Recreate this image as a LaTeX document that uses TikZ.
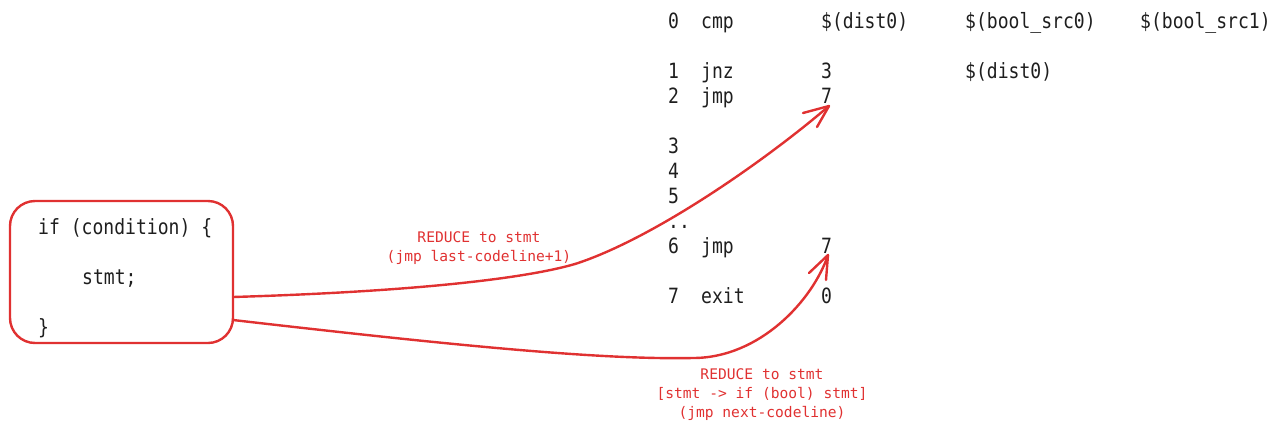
\documentclass[tikz,border=0pt]{standalone}
\usepackage{fontspec}
\newfontfamily\codefont[FakeStretch=0.86]{DejaVu Sans Mono}
\newfontfamily\labelfont{DejaVu Sans Mono}
\definecolor{exred}{HTML}{E03131}
\definecolor{exink}{HTML}{1E1E1E}
\begin{document}
\begin{tikzpicture}[x=1pt,y=-1pt,
  codebig/.style={anchor=base west,inner sep=0pt,text=exink,font=\codefont\fontsize{21}{24}\selectfont},
  codeline/.style={anchor=base west,inner sep=0pt,text=exink,font=\codefont\fontsize{21}{24}\selectfont},
  redlabel/.style={anchor=base,inner sep=0pt,text=exred,font=\labelfont\fontsize{14.6}{18}\selectfont},
  redline/.style={draw=exred,line width=2.4pt,line cap=round,line join=round},
  codebox/.style={draw=exred,line width=2.4pt,rounded corners=25pt,minimum width=223pt,minimum height=142pt,inner sep=0pt}]
\useasboundingbox (0,0) rectangle (1284,434);
% box
\node[codebox] (box) at (121.5,272) {};
\node[codebig] (l1) at (38,234) {if (condition) \{};
\node[codebig] (l2) at (82,284) {stmt;};
\node[codebig] (l3) at (38,334) {\}};
% code listing
\node[codeline] (r0a) at (668,28) {0};
\node[codeline] (r0b) at (701,28) {cmp};
\node[codeline] (r0c) at (821,28) {\$(dist0)};
\node[codeline] (r0d) at (965,28) {\$(bool\_src0)};
\node[codeline] (r0e) at (1140,28) {\$(bool\_src1)};
\node[codeline] (r1a) at (668,78) {1};
\node[codeline] (r1b) at (701,78) {jnz};
\node[codeline] (r1c) at (821,78) {3};
\node[codeline] (r1d) at (965,78) {\$(dist0)};
\node[codeline] (r2a) at (668,103) {2};
\node[codeline] (r2b) at (701,103) {jmp};
\node[codeline] (r2c) at (821,103) {7};
\node[codeline] (r3a) at (668,153) {3};
\node[codeline] (r4a) at (668,178) {4};
\node[codeline] (r5a) at (668,203) {5};
\node[codeline] (rdots) at (668,228) {..};
\node[codeline] (r6a) at (668,253) {6};
\node[codeline] (r6b) at (701,253) {jmp};
\node[codeline] (r6c) at (821,253) {7};
\node[codeline] (r7a) at (668,303) {7};
\node[codeline] (r7b) at (701,303) {exit};
\node[codeline] (r7c) at (821,303) {0};
% labels
\node[redlabel] (la1) at (479,242) {REDUCE to stmt};
\node[redlabel] (la2) at (479,261) {(jmp last-codeline+1)};
\node[redlabel] (lb1) at (762,379) {REDUCE to stmt};
\node[redlabel] (lb2) at (762,398) {[stmt -> if (bool) stmt]};
\node[redlabel] (lb3) at (762,417) {(jmp next-codeline)};
% connector end points
\coordinate (s1) at (233,297);
\coordinate (m1) at (575,264);
\coordinate (t1) at (829,106);
\coordinate (s2) at (233,320);
\coordinate (m2) at (693,358);
\coordinate (t2) at (828,255);
\draw[redline] (s1) .. controls (400,292) and (520,280) .. (m1)
  .. controls (650,240) and (760,165) .. (t1);
\draw[redline] (t1) -- (803,113);
\draw[redline] (t1) -- (817,127);
\draw[redline] (s2) .. controls (450,345) and (600,360) .. (m2)
  .. controls (760,358) and (813,300) .. (t2);
\draw[redline] (t2) -- (809,273);
\draw[redline] (t2) -- (826,280);
\end{tikzpicture}
\end{document}
